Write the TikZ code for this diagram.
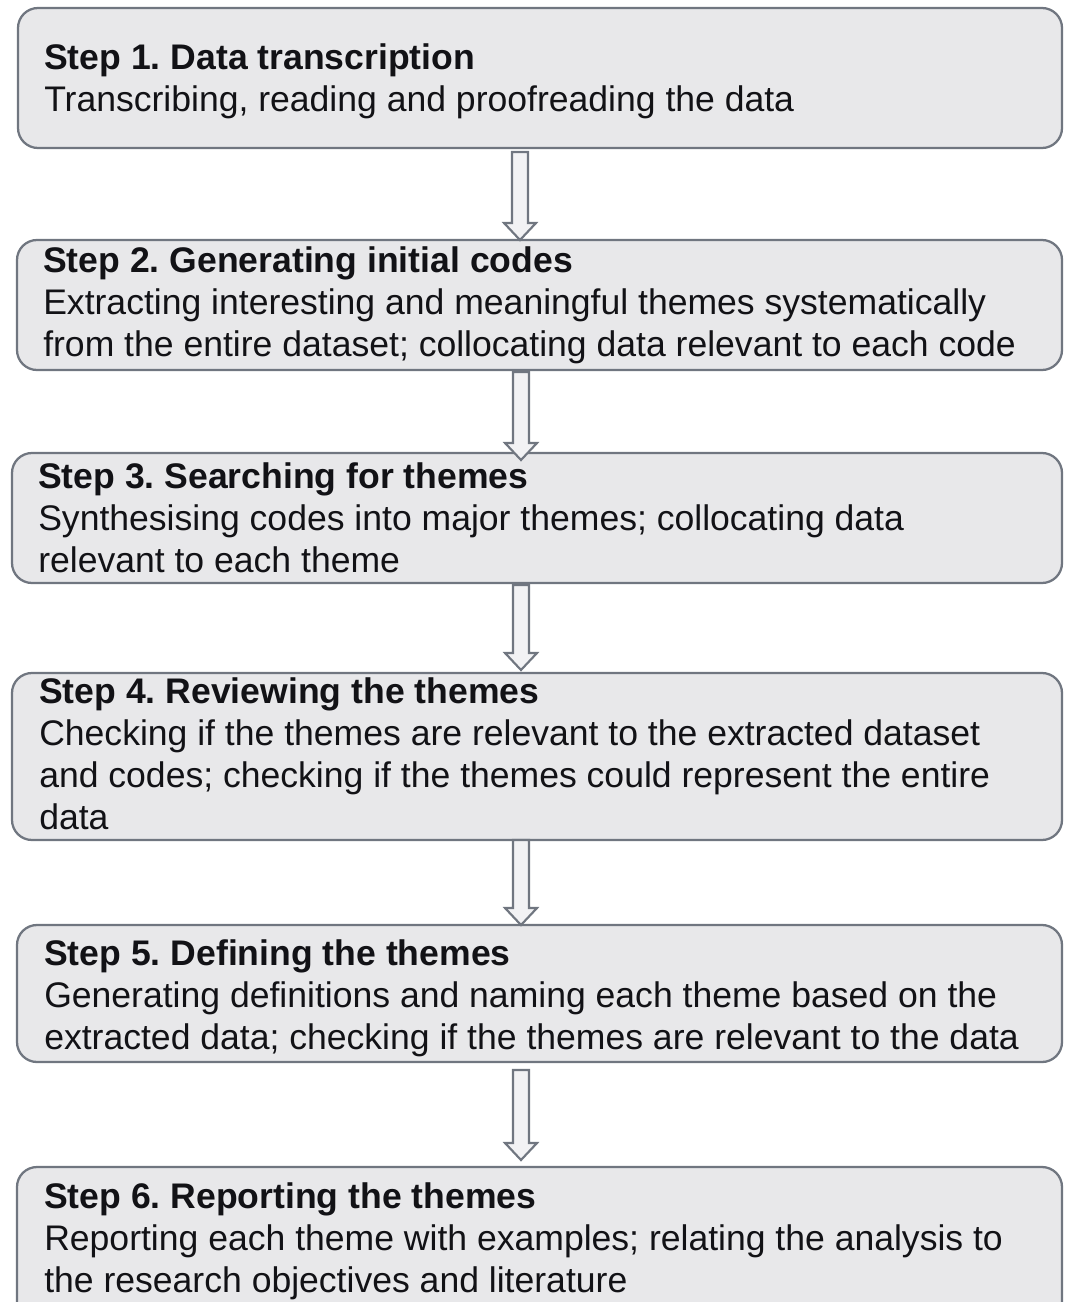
\documentclass[tikz,border=0pt]{standalone}
\usepackage{fontspec}
\setmainfont{Liberation Sans}
\usetikzlibrary{calc,fit}
\frenchspacing

\definecolor{boxfill}{RGB}{232,232,234}
\definecolor{boxline}{RGB}{112,118,128}
\definecolor{arrowfill}{RGB}{242,242,244}
\definecolor{inktext}{RGB}{18,18,22}

\tikzset{
  stepbox/.style={draw=boxline, fill=boxfill, line width=1.7pt,
    rounded corners=15pt, inner sep=0pt},
  steptext/.style={anchor=base west, inner sep=0pt, text=inktext,
    font=\fontsize{26.67pt}{31.5pt}\selectfont},
  blockarrow/.style={draw=boxline, fill=arrowfill, line width=1.6pt,
    line join=miter}
}

% hollow down arrow between two named coordinates
\newcommand\flowarrow[2]{%
  \draw[blockarrow] ($(#1)+(-8,0)$) -- ($(#2)+(-8,-17)$) -- ($(#2)+(-16,-17)$)
    -- (#2) -- ($(#2)+(16,-17)$) -- ($(#2)+(8,-17)$) -- ($(#1)+(8,0)$) -- cycle;}

% text block whose baseline is the first line
\newcommand\lines[1]{\begin{tabular}[t]{@{}l@{}}#1\end{tabular}}

\begin{document}
\begin{tikzpicture}[x=0.75pt, y=-0.75pt]
  \useasboundingbox (0,0) rectangle (1068,1302);
  \clip (0,0) rectangle (1068,1302);

  % step boxes
  \node[stepbox, fit={(18,8) (1062,148)}] (b1) {};
  \node[stepbox, fit={(17,240) (1062,370)}] (b2) {};
  \node[stepbox, fit={(12,453) (1062,583)}] (b3) {};
  \node[stepbox, fit={(12,673) (1062,840)}] (b4) {};
  \node[stepbox, fit={(17,925) (1062,1062)}] (b5) {};
  \node[stepbox, fit={(17,1167) (1062,1340)}] (b6) {};

  % step texts
  \node[steptext] (t1) at (44,70) {\lines{\textbf{Step 1. Data transcription}\\
    Transcribing, reading and proofreading the data}};
  \node[steptext] (t2) at (43,272) {\lines{\textbf{Step 2. Generating initial codes}\\
    Extracting interesting and meaningful themes systematically\\
    from the entire dataset; collocating data relevant to each code}};
  \node[steptext] (t3) at (38,488) {\lines{\textbf{Step 3. Searching for themes}\\
    Synthesising codes into major themes; collocating data\\
    relevant to each theme}};
  \node[steptext] (t4) at (39,703) {\lines{\textbf{Step 4. Reviewing the themes}\\
    Checking if the themes are relevant to the extracted dataset\\
    and codes; checking if the themes could represent the entire\\
    data}};
  \node[steptext] (t5) at (44,965) {\lines{\textbf{Step 5. Defining the themes}\\
    Generating definitions and naming each theme based on the\\
    extracted data; checking if the themes are relevant to the data}};
  \node[steptext] (t6) at (44,1208) {\lines{\textbf{Step 6. Reporting the themes}\\
    Reporting each theme with examples; relating the analysis to\\
    the research objectives and literature}};

  % arrow end points
  \coordinate (a1s) at (520,152);  \coordinate (a1e) at (520,240);
  \coordinate (a2s) at (521,372);  \coordinate (a2e) at (521,460);
  \coordinate (a3s) at (521,585);  \coordinate (a3e) at (521,670);
  \coordinate (a4s) at (521,840);  \coordinate (a4e) at (521,925);
  \coordinate (a5s) at (521,1070); \coordinate (a5e) at (521,1160);

  \flowarrow{a1s}{a1e}
  \flowarrow{a2s}{a2e}
  \flowarrow{a3s}{a3e}
  \flowarrow{a4s}{a4e}
  \flowarrow{a5s}{a5e}
\end{tikzpicture}
\end{document}
